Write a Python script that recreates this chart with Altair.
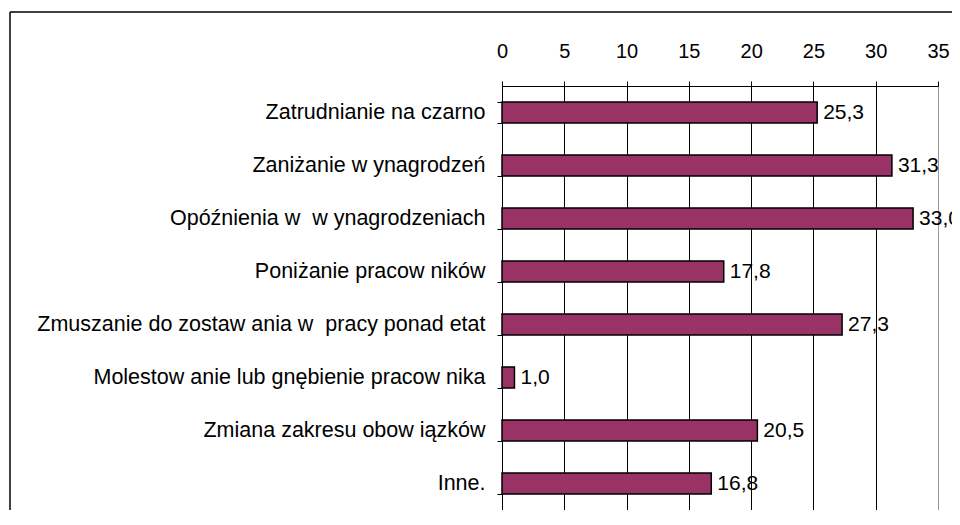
import altair as alt
import pandas as pd

categories = [
    "Zatrudnianie na czarno",
    "Zaniżanie w ynagrodzeń",
    "Opóźnienia w\u00a0 w ynagrodzeniach",
    "Poniżanie pracow ników\u00a0",
    "Zmuszanie do zostaw ania w\u00a0 pracy ponad etat",
    "Molestow anie lub gnębienie pracow nika",
    "Zmiana zakresu obow iązków\u00a0",
    "Inne.",
]
values = [25.3, 31.3, 33.0, 17.8, 27.3, 1.0, 20.5, 16.8]
x_ticks = [0, 5, 10, 15, 20, 25, 30, 35]

df = pd.DataFrame({
    "cat": categories,
    "val": values,
    "lab": [f"{v:.1f}".replace(".", ",") for v in values],
})

FONT = "Liberation Sans"

x_enc = alt.X(
    "val:Q",
    scale=alt.Scale(domain=[0, 35], nice=False, zero=True),
    axis=alt.Axis(
        orient="top", values=x_ticks, title=None, grid=True,
        gridColor=alt.condition("datum.value == 35", alt.value("#999999"), alt.value("#000000")),
        gridWidth=1, tickSize=5, tickColor="black", domainColor="black",
        labelFlush=False, labelBound=False,
        labelPadding=20, labelFontSize=20, labelFont=FONT, labelColor="black",
    ),
)
y_enc = alt.Y(
    "cat:N", sort=categories,
    scale=alt.Scale(paddingInner=0.6, paddingOuter=0.3),
    axis=alt.Axis(
        title=None, tickBand="extent", tickSize=5, tickColor="black",
        domainColor="black", labelPadding=12, labelLimit=600,
        labelFontSize=21.5, labelFont=FONT, labelColor="black",
    ),
)

bars = alt.Chart(df).mark_bar(
    color="#993366", stroke="black", strokeWidth=1.5
).encode(x=x_enc, y=y_enc)

labels = alt.Chart(df).mark_text(
    align="left", baseline="middle", dx=6, font=FONT, fontSize=21, color="black"
).encode(x="val:Q", y=alt.Y("cat:N", sort=categories), text="lab:N")

frame_top = alt.Chart(alt.Data(values=[{}])).mark_rule(
    stroke="black", strokeWidth=1.5
).encode(x=alt.value(-492), x2=alt.value(450), y=alt.value(-74))

frame_left = alt.Chart(alt.Data(values=[{}])).mark_rule(
    stroke="black", strokeWidth=1.5
).encode(x=alt.value(-492), y=alt.value(-74), y2=alt.value(424))

chart = alt.layer(frame_top, frame_left, bars, labels).properties(
    width=436, height=424,
    autosize=alt.AutoSizeParams(type="none"),
    padding={"left": 494, "top": 78, "right": 14, "bottom": 0},
).configure_view(
    stroke="#999999", strokeWidth=2
).configure(background="white")

chart.save("out.html", embed_options={"renderer": "svg", "actions": False})
